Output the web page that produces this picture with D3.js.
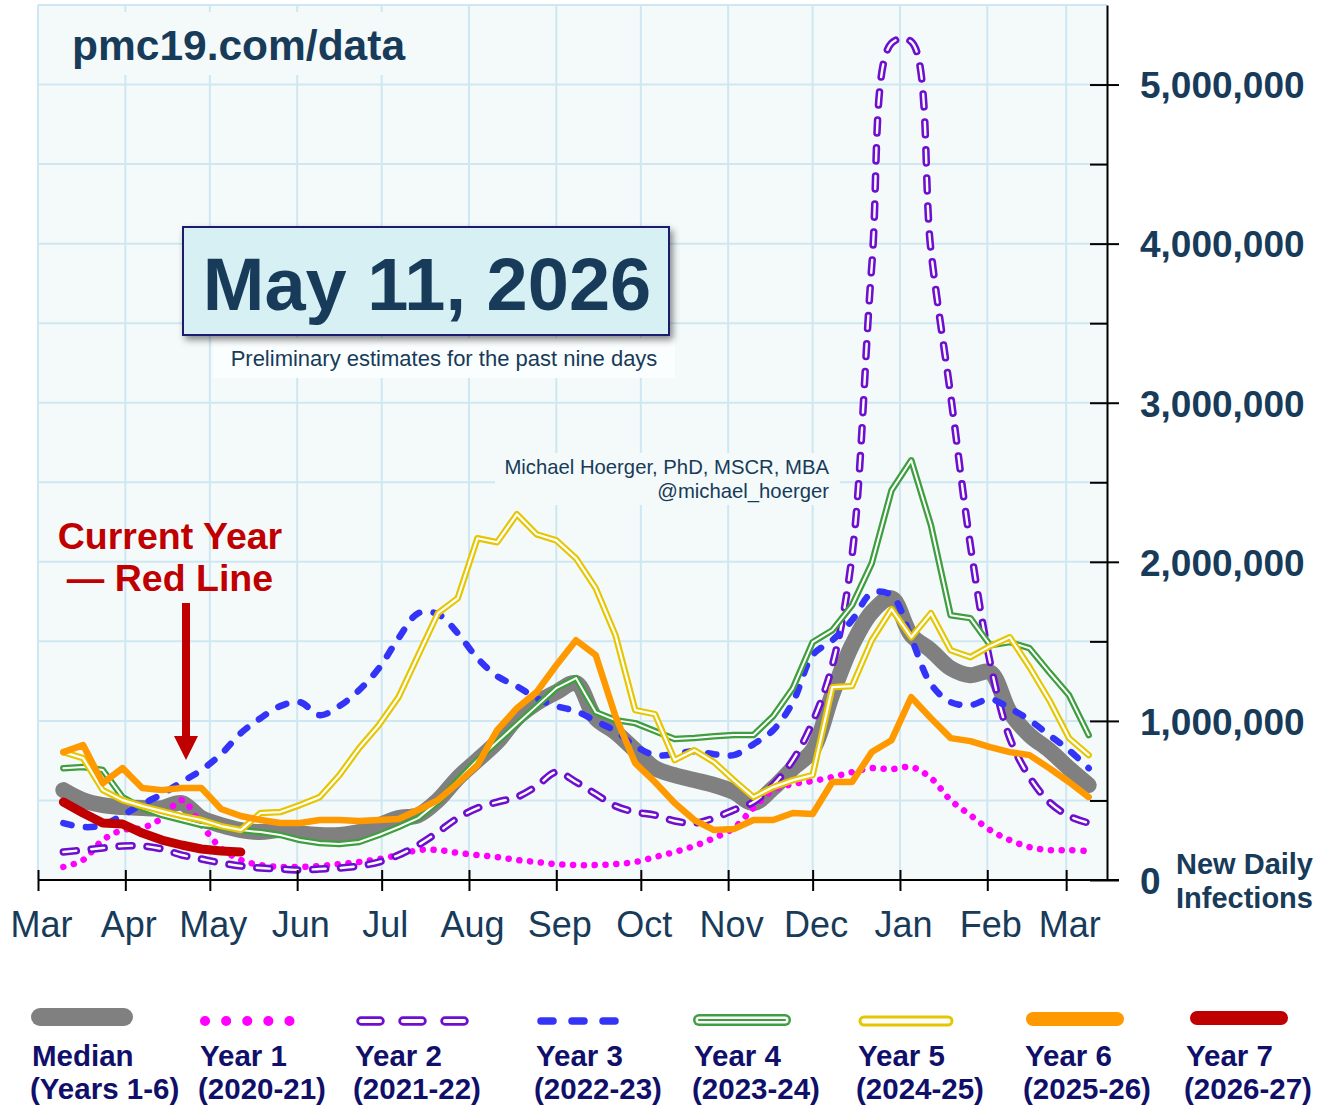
<!DOCTYPE html>
<html><head><meta charset="utf-8">
<script src="https://cdn.jsdelivr.net/npm/d3@7"></script>
<style>
body{margin:0;background:#fff;}
svg{display:block;font-family:"Liberation Sans",Arial,Helvetica,sans-serif;}
</style>
</head><body>
<svg id="c" width="1325" height="1107"></svg>
<script>
// ---- DATA (new daily infections, thousands; weekly, starting Mar 10) ----
const firstWeek = "2025-03-10";
const median = [565,502,471,458,452,452,484,389,345,314,301,314,295,283,283,301,345,389,408,502,641,754,867,1017,1112,1181,1237,1017,929,816,703,659,628,597,553,484,578,703,816,1168,1476,1683,1771,1539,1444,1331,1287,1306,1055,911,816,703,597];
const year1 = [82,126,251,314,327,389,502,345,201,126,94,82,82,88,100,113,132,157,188,188,170,157,144,126,113,100,94,94,100,113,144,176,214,264,327,452,565,603,622,647,678,703,697,710,641,502,408,314,251,207,188,188,182];
const year2 = [176,188,201,214,214,195,157,132,107,88,75,69,63,69,75,88,113,157,220,301,389,452,490,521,590,678,616,540,465,427,408,371,358,389,440,490,597,754,992,1350,2041,3863,5260,5270,3957,3046,2104,1369,892,647,490,402,358];
const year3 = [358,333,345,408,477,540,616,691,791,923,1017,1093,1118,1036,1093,1193,1331,1520,1677,1671,1551,1394,1281,1218,1143,1093,1061,999,936,842,785,791,810,791,785,854,942,1118,1413,1507,1633,1803,1790,1520,1231,1118,1099,1137,1080,1005,911,816,703];
const year4 = [703,710,691,521,452,408,377,345,333,314,301,283,251,232,226,239,283,333,389,490,628,754,867,980,1093,1206,1269,1055,1005,986,936,886,892,904,911,911,1030,1206,1495,1570,1727,1991,2449,2638,2230,1664,1646,1476,1495,1457,1306,1162,911];
const year5 = [804,766,565,502,465,433,402,377,339,314,421,427,471,521,659,829,973,1149,1413,1677,1771,2148,2123,2299,2173,2135,2022,1834,1539,1068,1043,754,816,741,628,521,584,628,659,1212,1219,1507,1702,1526,1677,1444,1401,1470,1526,1338,1131,892,785];
const year6 = [804,848,609,703,578,565,578,578,446,402,377,358,358,377,377,371,377,383,440,502,609,722,942,1080,1181,1350,1507,1413,1030,735,616,484,377,314,320,377,377,421,415,616,616,804,879,1149,1017,892,873,835,804,785,703,616,521];
const year7 = [490,421,358,352,295,251,220,195,182,176];
const yTicks = [0,1000,2000,3000,4000,5000];
const legendTitles = ["Median","Year 1","Year 2","Year 3","Year 4","Year 5","Year 6","Year 7"];
const legendYears  = ["(Years 1-6)","(2020-21)","(2021-22)","(2022-23)","(2023-24)","(2024-25)","(2025-26)","(2026-27)"];
const dateLabel = "May 11, 2026";

// ---- SETUP ----
const svg = d3.select("#c");
const parse = d3.timeParse("%Y-%m-%d");
const start = parse(firstWeek);
const weeks = d3.range(53).map(i => d3.timeDay.offset(start, 7 * i));

const x = d3.scaleTime().domain([new Date(2025,2,1), new Date(2026,2,15,12)]).range([38,1107]);
const y = d3.scaleLinear().domain([0,5500]).range([880,5]);

const BG = "#f4fafa", GRID = "#cfe7f2", NAVY = "#173b59";

const defs = svg.append("defs");
const f = defs.append("filter").attr("id","sh").attr("x","-10%").attr("y","-20%").attr("width","125%").attr("height","150%");
f.append("feDropShadow").attr("dx",3).attr("dy",4).attr("stdDeviation",3.5).attr("flood-color","#000").attr("flood-opacity",0.45);

svg.append("rect").attr("width",1325).attr("height",1107).attr("fill","#fff");
svg.append("rect").attr("x",x.range()[0]).attr("y",y.range()[1])
  .attr("width",x.range()[1]-x.range()[0]).attr("height",y.range()[0]-y.range()[1]).attr("fill",BG);

// grid
const months = x.ticks(d3.timeMonth.every(1));
const grid = svg.append("g").attr("stroke",GRID).attr("stroke-width",2);
grid.selectAll("line.v").data(months).join("line").attr("class","v")
  .attr("x1",d=>x(d)).attr("x2",d=>x(d)).attr("y1",y.range()[1]).attr("y2",y.range()[0]);
grid.selectAll("line.h").data(d3.range(500,5501,500)).join("line").attr("class","h")
  .attr("x1",x.range()[0]).attr("x2",x.range()[1]).attr("y1",d=>y(d)).attr("y2",d=>y(d));

// masks behind annotations
svg.append("rect").attr("x",40).attr("y",12).attr("width",400).attr("height",63).attr("fill",BG);
svg.append("rect").attr("x",495).attr("y",453).attr("width",345).attr("height",52).attr("fill",BG);
svg.append("rect").attr("x",213).attr("y",338).attr("width",462).attr("height",40).attr("fill","#fbfefe");

// ---- LINES ----
const styles = {
  median: {curve: d3.curveCatmullRom, layers: [{c:"#808080", w:16}]},
  year1:  {curve: d3.curveCatmullRom, layers: [{c:"#ff00ff", w:6.5, d:"0.1 10.7"}]},
  year2:  {curve: d3.curveCatmullRom, layers: [{c:"#6e0fd0", w:7.5, d:"13 15"},{c:"#ffffff", w:2.4, d:"13 15"}]},
  year3:  {curve: d3.curveCatmullRom, layers: [{c:"#3434f8", w:6.5, d:"8.5 14.5"}]},
  year4:  {curve: d3.curveLinear, layers: [{c:"#3f9e3f", w:6.5},{c:"#ffffff", w:2}]},
  year5:  {curve: d3.curveLinear, layers: [{c:"#e6c600", w:6.5},{c:"#ffffff", w:2.2}]},
  year6:  {curve: d3.curveLinear, layers: [{c:"#ff9900", w:6.5}]},
  year7:  {curve: d3.curveLinear, layers: [{c:"#c00000", w:9}]}
};
const seriesList = [["median",median],["year1",year1],["year2",year2],["year3",year3],
  ["year4",year4],["year5",year5],["year6",year6],["year7",year7]];

const linesG = svg.append("g").attr("fill","none").attr("stroke-linecap","round").attr("stroke-linejoin","round");
seriesList.forEach(([key, vals]) => {
  const st = styles[key];
  const gen = d3.line().x((d,i)=>x(weeks[i])).y(d=>y(d)).curve(st.curve);
  st.layers.forEach(L => {
    linesG.append("path").datum(vals).attr("d",gen)
      .attr("stroke",L.c).attr("stroke-width",L.w)
      .attr("stroke-dasharray",L.d || null);
  });
});

// ---- AXES ----
const xAxis = d3.axisBottom(x).ticks(d3.timeMonth.every(1)).tickFormat(d3.timeFormat("%b"))
  .tickSizeInner(10).tickSizeOuter(0);
const gx = svg.append("g").attr("transform",`translate(0,${y(0)})`).call(xAxis);
gx.select(".domain").remove();
gx.selectAll(".tick line").attr("y1",-10).attr("y2",11).attr("stroke","#000").attr("stroke-width",2);
gx.selectAll(".tick text").attr("y",57).attr("dy",0).attr("dx",3)
  .attr("font-size",36).attr("fill",NAVY).attr("font-family","Liberation Sans, Arial, sans-serif");
svg.append("line").attr("x1",x.range()[0]).attr("x2",x.range()[1]+12).attr("y1",y(0)).attr("y2",y(0))
  .attr("stroke","#000").attr("stroke-width",2);

const yAxis = d3.axisRight(y).tickValues(yTicks).tickFormat(d=>d3.format(",")(d*1000))
  .tickSizeInner(12).tickSizeOuter(0).tickPadding(21);
const gy = svg.append("g").attr("transform",`translate(${x.range()[1]},0)`).call(yAxis);
gy.select(".domain").attr("stroke","#000").attr("stroke-width",2);
gy.selectAll(".tick line").attr("x1",-17).attr("x2",12).attr("stroke","#000").attr("stroke-width",2);
gy.selectAll(".tick text").attr("font-size",37).attr("font-weight","bold").attr("fill",NAVY)
  .attr("dy","0.36em").attr("font-family","Liberation Sans, Arial, sans-serif");
const gyMinor = svg.append("g").attr("transform",`translate(${x.range()[1]},0)`)
  .call(d3.axisRight(y).tickValues(d3.range(500,5000,1000)).tickFormat("").tickSize(0));
gyMinor.select(".domain").remove();
gyMinor.selectAll(".tick line").attr("x1",-17).attr("x2",0).attr("stroke","#000").attr("stroke-width",2);

svg.append("text").attr("x",1176).attr("y",874).attr("font-size",29).attr("font-weight","bold")
  .attr("fill",NAVY).text("New Daily");
svg.append("text").attr("x",1176).attr("y",908).attr("font-size",29).attr("font-weight","bold")
  .attr("fill",NAVY).text("Infections");

// ---- ANNOTATIONS ----
svg.append("text").attr("x",72).attr("y",60).attr("font-size",42.5).attr("font-weight","bold")
  .attr("fill",NAVY).text("pmc19.com/data");

svg.append("rect").attr("x",183).attr("y",227).attr("width",486).attr("height",108)
  .attr("fill","#d6f0f4").attr("stroke","#1d1d6e").attr("stroke-width",2).attr("filter","url(#sh)");
svg.append("text").attr("x",427).attr("y",310).attr("text-anchor","middle").attr("font-size",74)
  .attr("font-weight","bold").attr("fill",NAVY).text(dateLabel);
svg.append("text").attr("x",444).attr("y",366).attr("text-anchor","middle").attr("font-size",22)
  .attr("fill",NAVY).text("Preliminary estimates for the past nine days");

svg.append("text").attr("x",829).attr("y",474).attr("text-anchor","end").attr("font-size",20.3)
  .attr("fill",NAVY).text("Michael Hoerger, PhD, MSCR, MBA");
svg.append("text").attr("x",829).attr("y",498).attr("text-anchor","end").attr("font-size",20.3)
  .attr("fill",NAVY).text("@michael_hoerger");

svg.append("text").attr("x",170).attr("y",549).attr("text-anchor","middle").attr("font-size",37.5)
  .attr("font-weight","bold").attr("fill","#c00000").text("Current Year");
svg.append("text").attr("x",170).attr("y",591).attr("text-anchor","middle").attr("font-size",37.5)
  .attr("font-weight","bold").attr("fill","#c00000").text("\u2014 Red Line");
svg.append("line").attr("x1",186).attr("x2",186).attr("y1",603).attr("y2",740)
  .attr("stroke","#c00000").attr("stroke-width",8);
svg.append("path").attr("d","M174,736L198,736L186,760Z").attr("fill","#c00000");

// ---- LEGEND ----
const legX = [32,200,355,536,694,858,1025,1186];
const legSamples = [
  {x1:40, x2:124, y:1017, layers:[{c:"#808080", w:18}]},
  {x1:205, x2:290, y:1021, layers:[{c:"#ff00ff", w:10, d:"0.1 21"}]},
  {x1:361, x2:465, y:1021, layers:[{c:"#6e0fd0", w:9.5, d:"19 23"},{c:"#ffffff", w:4, d:"19 23"}]},
  {x1:541, x2:618, y:1021, layers:[{c:"#3434f8", w:7.5, d:"12 19"}]},
  {x1:699, x2:785, y:1020, layers:[{c:"#3f9e3f", w:12},{c:"#ffffff", w:7},{c:"#3f9e3f", w:2.2}]},
  {x1:864, x2:948, y:1021, layers:[{c:"#e6c600", w:11},{c:"#ffffff", w:5}]},
  {x1:1033, x2:1117, y:1019, layers:[{c:"#ff9900", w:14}]},
  {x1:1197, x2:1281, y:1018, layers:[{c:"#c00000", w:14}]}
];
const leg = svg.append("g");
legendTitles.forEach((t,i) => {
  const s = legSamples[i];
  s.layers.forEach(L => {
    leg.append("line").attr("x1",s.x1).attr("x2",s.x2).attr("y1",s.y).attr("y2",s.y)
      .attr("stroke",L.c).attr("stroke-width",L.w).attr("stroke-linecap","round")
      .attr("stroke-dasharray",L.d || null);
  });
  leg.append("text").attr("x",legX[i]).attr("y",1066).attr("font-size",29.5).attr("font-weight","bold")
    .attr("fill","#10106a").text(t);
  leg.append("text").attr("x",legX[i]-2).attr("y",1099).attr("font-size",29.5).attr("font-weight","bold")
    .attr("fill","#10106a").text(legendYears[i]);
});
</script>
</body></html>
